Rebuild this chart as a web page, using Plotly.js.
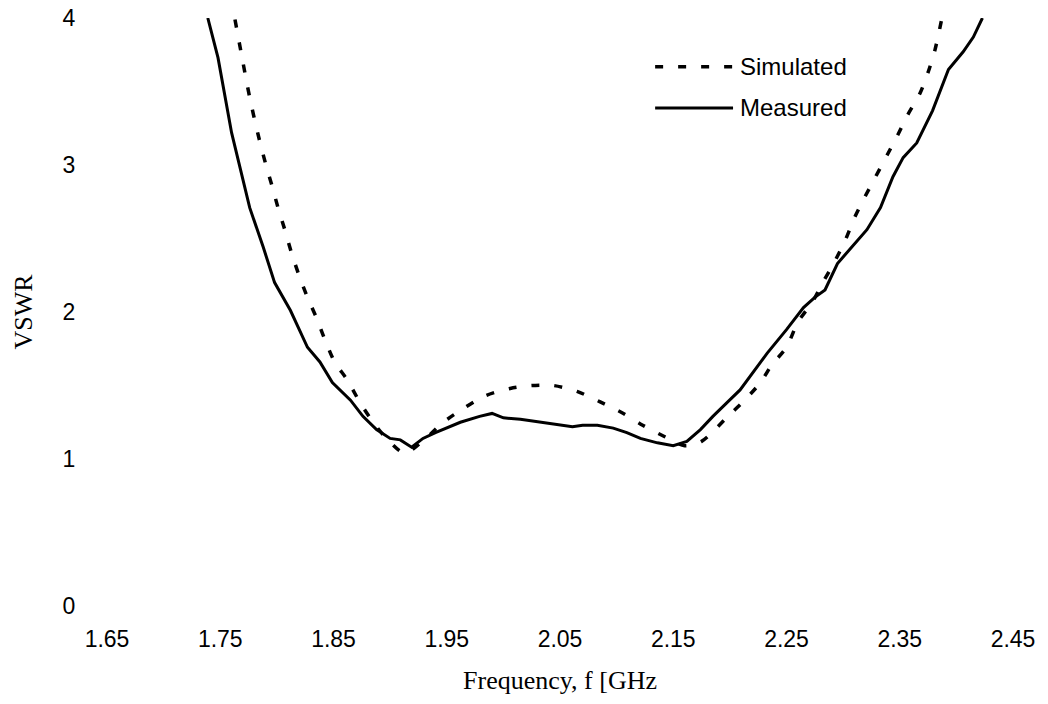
<!DOCTYPE html>
<html>
<head>
<meta charset="utf-8">
<script src="https://cdn.plot.ly/plotly-3.0.1.min.js"></script>
<style>
  html, body { margin: 0; padding: 0; background: #ffffff; }
  #chart { width: 1048px; height: 704px; }
</style>
</head>
<body>
<div id="chart"></div>
<script>
// ---- Data ----
var simFreq = [1.763, 1.770, 1.776, 1.783, 1.790, 1.796, 1.801, 1.807, 1.813, 1.820,
               1.827, 1.835, 1.842, 1.851, 1.862, 1.873, 1.885, 1.898, 1.913, 1.930,
               1.947, 1.964, 1.984, 2.006, 2.025, 2.044, 2.065, 2.085, 2.106, 2.123,
               2.143, 2.160, 2.175, 2.197, 2.213, 2.227, 2.237, 2.250, 2.260, 2.273,
               2.282, 2.293, 2.302, 2.310, 2.319, 2.328, 2.339, 2.348, 2.357, 2.368,
               2.375, 2.381, 2.387];
var simVswr = [3.99, 3.70, 3.46, 3.22, 3.01, 2.85, 2.71, 2.56, 2.40, 2.24,
               2.10, 1.96, 1.82, 1.66, 1.54, 1.39, 1.25, 1.13, 1.04, 1.13,
               1.25, 1.34, 1.43, 1.48, 1.50, 1.50, 1.46, 1.39, 1.31, 1.23,
               1.15, 1.09, 1.12, 1.28, 1.40, 1.52, 1.64, 1.76, 1.93, 2.07,
               2.20, 2.35, 2.49, 2.64, 2.78, 2.91, 3.07, 3.20, 3.34, 3.49,
               3.63, 3.78, 3.99];

var measFreq = [1.739, 1.748, 1.760, 1.767, 1.776, 1.788, 1.798, 1.812, 1.827, 1.838,
                1.849, 1.865, 1.876, 1.888, 1.900, 1.909, 1.919, 1.929, 1.940, 1.962,
                1.979, 1.990, 2.000, 2.015, 2.032, 2.044, 2.061, 2.070, 2.083, 2.097,
                2.109, 2.121, 2.136, 2.150, 2.162, 2.174, 2.185, 2.197, 2.209, 2.233,
                2.250, 2.265, 2.275, 2.284, 2.295, 2.321, 2.333, 2.344, 2.353, 2.365,
                2.379, 2.393, 2.406, 2.415, 2.423];
var measVswr = [4.00, 3.73, 3.22, 2.99, 2.71, 2.44, 2.20, 2.01, 1.76, 1.66,
                1.52, 1.40, 1.29, 1.20, 1.14, 1.13, 1.08, 1.14, 1.18, 1.25,
                1.29, 1.31, 1.28, 1.27, 1.25, 1.24, 1.22, 1.23, 1.23, 1.21,
                1.18, 1.14, 1.11, 1.09, 1.12, 1.20, 1.29, 1.38, 1.47, 1.72,
                1.88, 2.03, 2.10, 2.15, 2.33, 2.56, 2.71, 2.92, 3.05, 3.15,
                3.37, 3.65, 3.77, 3.87, 4.00];

var xTickVals = [1.65, 1.75, 1.85, 1.95, 2.05, 2.15, 2.25, 2.35, 2.45];
var xTickText = ["1.65", "1.75", "1.85", "1.95", "2.05", "2.15", "2.25", "2.35", "2.45"];
var yTickVals = [0, 1, 2, 3, 4];
var yTickText = ["0", "1", "2", "3", "4"];
var seriesNames = ["Simulated", "Measured"];

// ---- Traces ----
var traces = [
  {
    x: simFreq, y: simVswr, name: seriesNames[0], type: "scatter", mode: "lines",
    line: { color: "#000000", width: 3.5, dash: "8px,15px", shape: "spline", smoothing: 0.8 },
    showlegend: false, hoverinfo: "x+y"
  },
  {
    x: measFreq, y: measVswr, name: seriesNames[1], type: "scatter", mode: "lines",
    line: { color: "#000000", width: 3, shape: "linear" },
    showlegend: false, hoverinfo: "x+y"
  }
];

var tickFont = { family: "Liberation Sans, Arial, sans-serif", size: 23, color: "#000000" };
var titleFont = { family: "Liberation Serif, Times New Roman, serif", size: 26, color: "#000000" };
var legendFont = { family: "Liberation Sans, Arial, sans-serif", size: 24, color: "#000000" };

var layout = {
  width: 1048, height: 704,
  paper_bgcolor: "#ffffff", plot_bgcolor: "#ffffff",
  margin: { l: 107, r: 35, t: 18, b: 98, pad: 0 },
  showlegend: false,
  xaxis: {
    range: [1.65, 2.45], tickmode: "array", tickvals: xTickVals, ticktext: xTickText,
    showgrid: false, zeroline: false, showline: false,
    ticks: "outside", ticklen: 12, tickcolor: "rgba(0,0,0,0)",
    tickfont: tickFont,
    title: { text: "Frequency, f [GHz", font: titleFont, standoff: 20 },
    automargin: false, fixedrange: true
  },
  yaxis: {
    range: [0, 4], tickmode: "array", tickvals: yTickVals, ticktext: yTickText,
    showgrid: false, zeroline: false, showline: false,
    ticks: "outside", ticklen: 26, tickcolor: "rgba(0,0,0,0)",
    tickfont: tickFont,
    title: { text: "VSWR", font: titleFont, standoff: 22 },
    automargin: false, fixedrange: true
  },
  shapes: [
    { type: "line", xref: "paper", yref: "paper", x0: 0.605, x1: 0.691, y0: 0.917, y1: 0.917,
      line: { color: "#000000", width: 3.5, dash: "8px,15px" } },
    { type: "line", xref: "paper", yref: "paper", x0: 0.605, x1: 0.691, y0: 0.847, y1: 0.847,
      line: { color: "#000000", width: 3 } }
  ],
  annotations: [
    { xref: "paper", yref: "paper", x: 0.697, y: 0.917, xanchor: "left", yanchor: "middle",
      text: seriesNames[0], showarrow: false, font: legendFont },
    { xref: "paper", yref: "paper", x: 0.697, y: 0.847, xanchor: "left", yanchor: "middle",
      text: seriesNames[1], showarrow: false, font: legendFont }
  ]
};

Plotly.newPlot("chart", traces, layout, { displayModeBar: false, staticPlot: true });
</script>
</body>
</html>
